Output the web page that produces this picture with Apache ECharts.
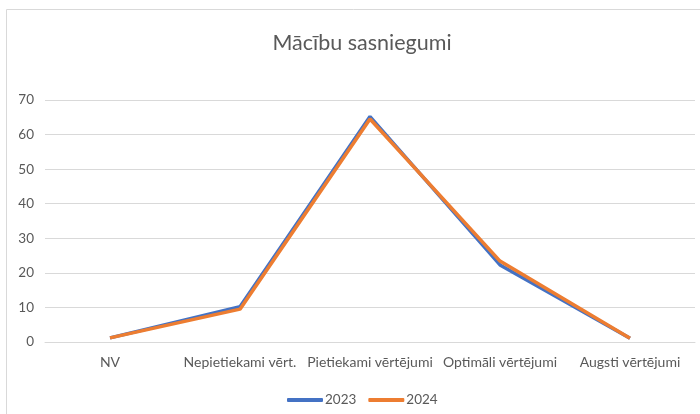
<!DOCTYPE html>
<html><head><meta charset="utf-8">
<script src="https://cdn.jsdelivr.net/npm/echarts@6/dist/echarts.min.js"></script>
<style>html,body{margin:0;padding:0;background:#fff}#c{width:700px;height:414px}</style>
</head><body><div id="c"></div>
<script>
const categories = ["NV", "Nepietiekami vērt.", "Pietiekami vērtējumi", "Optimāli vērtējumi", "Augsti vērtējumi"];
const values2023 = [1.2, 10.2, 65.2, 22.3, 1.1];
const values2024 = [1.2, 9.5, 64.5, 23.4, 1.1];
const yTicks = [0, 10, 20, 30, 40, 50, 60, 70];
const font = "Lato, 'Open Sans', sans-serif";
const chart = echarts.init(document.getElementById('c'));
chart.setOption({
  animation: false,
  title: { text: "Mācību sasniegumi", left: 357, top: 27, textAlign: 'center',
    textStyle: { fontFamily: font, fontSize: 21.5, fontWeight: 'normal', color: '#595959' } },
  graphic: [{ type: 'rect', shape: { x: 6.5, y: 9.5, width: 710, height: 420 },
    style: { fill: 'none', stroke: '#d9d9d9', lineWidth: 1 }, z: -1 }],
  legend: { top: 388, left: 282, itemWidth: 36, itemHeight: 4, itemGap: 12,
    icon: 'roundRect', textStyle: { fontFamily: font, fontSize: 13.5, color: '#595959', padding: [0, 0, 0, -3] },
    data: ['2023', '2024'] },
  grid: { left: 45, right: 5, top: 100, bottom: 72, containLabel: false },
  xAxis: { type: 'category', data: categories, boundaryGap: true,
    axisLine: { lineStyle: { color: '#d9d9d9' } }, axisTick: { show: false },
    axisLabel: { fontFamily: font, fontSize: 14, color: '#595959', margin: 13, interval: 0 } },
  yAxis: { type: 'value', min: yTicks[0], max: yTicks[yTicks.length - 1], interval: 10,
    axisLine: { show: false }, axisTick: { show: false },
    splitLine: { lineStyle: { color: '#d9d9d9' } },
    axisLabel: { fontFamily: font, fontSize: 13.5, color: '#595959', margin: 11 } },
  series: [
    { name: '2023', type: 'line', data: values2023, symbol: 'none', lineStyle: { width: 3.5, color: '#4472C4' }, itemStyle: { color: '#4472C4' } },
    { name: '2024', type: 'line', data: values2024, symbol: 'none', lineStyle: { width: 3.5, color: '#ED7D31' }, itemStyle: { color: '#ED7D31' } }
  ]
});
</script></body></html>
